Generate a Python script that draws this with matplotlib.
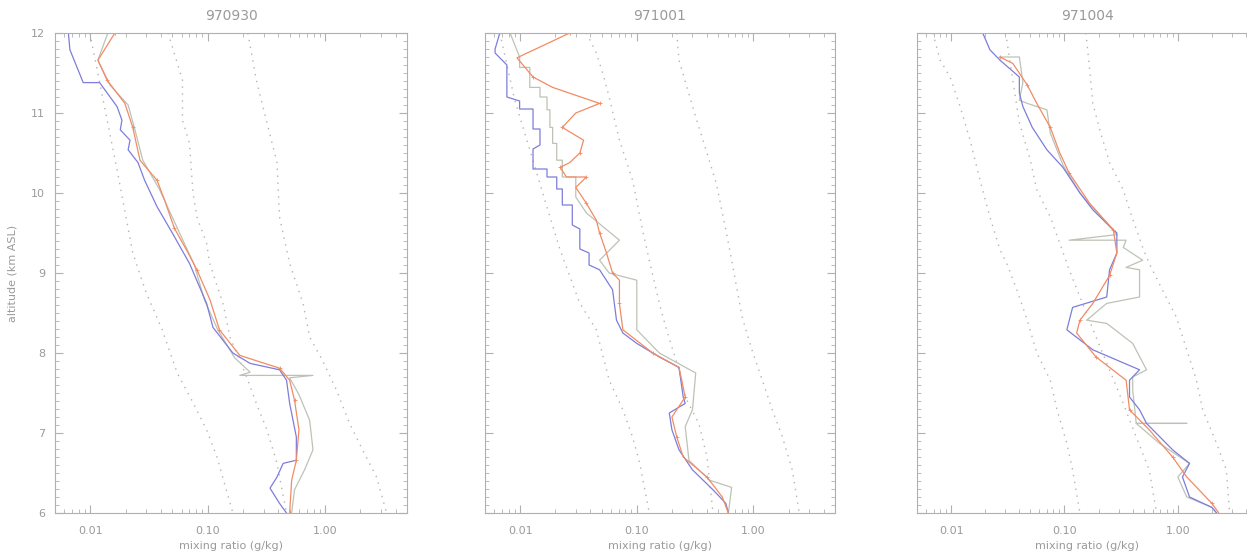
import matplotlib
matplotlib.use("Agg")
import matplotlib.pyplot as plt
from matplotlib.ticker import FixedLocator, MultipleLocator, LogLocator, NullFormatter

# ---------------- data (mixing ratio g/kg, altitude km) ----------------
titles = ["970930", "971001", "971004"]
xticks = [0.01, 0.1, 1.0]
xticklabels = ["0.01", "0.10", "1.00"]
yticks = [6, 7, 8, 9, 10, 11, 12]

# Panel 1 : 970930
p1_blue_mr = [0.0065, 0.0067, 0.0087, 0.012, 0.0169, 0.0186, 0.018, 0.0218, 0.021, 0.0255, 0.029, 0.037,
              0.050, 0.070, 0.098, 0.111, 0.164, 0.23, 0.41, 0.47, 0.50, 0.57, 0.57, 0.44, 0.39, 0.34, 0.41, 0.47]
p1_blue_alt = [12.0, 11.79, 11.38, 11.38, 11.08, 10.91, 10.79, 10.66, 10.54, 10.38, 10.16, 9.83,
               9.5, 9.12, 8.62, 8.32, 8.0, 7.87, 7.79, 7.66, 7.37, 6.95, 6.66, 6.62, 6.45, 6.31, 6.12, 6.0]
p1_red_mr = [0.0162, 0.0116, 0.0139, 0.0197, 0.023, 0.0265, 0.037, 0.043, 0.052, 0.070, 0.081, 0.105,
             0.126, 0.188, 0.41, 0.50, 0.55, 0.60, 0.57, 0.52, 0.50]
p1_red_alt = [12.0, 11.66, 11.41, 11.12, 10.82, 10.41, 10.16, 9.91, 9.56, 9.22, 9.04, 8.66,
              8.29, 7.97, 7.81, 7.66, 7.41, 7.04, 6.66, 6.41, 6.0]
p1_grey_mr = [0.0141, 0.0116, 0.0147, 0.021, 0.024, 0.028, 0.039, 0.056, 0.077, 0.094, 0.122, 0.17,
              0.23, 0.188, 0.79, 0.50, 0.60, 0.74, 0.79, 0.67, 0.55, 0.52]
p1_grey_alt = [12.0, 11.66, 11.35, 11.1, 10.79, 10.41, 10.04, 9.54, 9.1, 8.66, 8.29, 7.94,
               7.76, 7.72, 7.72, 7.69, 7.48, 7.16, 6.79, 6.54, 6.29, 6.0]
p1_d1_mr = [0.0099, 0.0169, 0.023, 0.030, 0.041, 0.055, 0.075, 0.098, 0.12, 0.164]
p1_d1_alt = [12.0, 10.29, 9.25, 8.75, 8.29, 7.75, 7.38, 7.04, 6.7, 6.0]
p1_d2_mr = [0.046, 0.061, 0.061, 0.070, 0.075, 0.081, 0.098, 0.104, 0.135, 0.155, 0.215, 0.26, 0.32, 0.39, 0.47]
p1_d2_alt = [12.0, 11.41, 10.91, 10.62, 10.0, 9.7, 9.37, 9.12, 8.62, 8.2, 7.7, 7.37, 7.04, 6.62, 6.0]
p1_d3_mr = [0.22, 0.26, 0.32, 0.39, 0.41, 0.50, 0.65, 0.74, 0.95, 1.25, 1.62, 2.09, 2.75, 3.35]
p1_d3_alt = [12.0, 11.41, 10.88, 10.38, 9.7, 9.12, 8.62, 8.2, 7.91, 7.54, 7.12, 6.79, 6.45, 6.0]

# Panel 2 : 971001
p2_blue_mr = [0.0067, 0.0061, 0.0061, 0.0077, 0.0077, 0.0099, 0.0099, 0.0129, 0.0129, 0.0148, 0.0148, 0.0129,
              0.0129, 0.017, 0.017, 0.0206, 0.0206, 0.023, 0.023, 0.028, 0.028, 0.0325, 0.0325, 0.039, 0.039,
              0.048, 0.062, 0.067, 0.076, 0.10, 0.156, 0.23, 0.25, 0.26, 0.19, 0.20, 0.23, 0.30, 0.45, 0.58, 0.61]
p2_blue_alt = [12.0, 11.8, 11.75, 11.6, 11.2, 11.15, 11.05, 11.05, 10.8, 10.8, 10.6, 10.55,
               10.3, 10.3, 10.2, 10.2, 10.05, 10.05, 9.85, 9.85, 9.6, 9.55, 9.3, 9.25, 9.1,
               9.04, 8.79, 8.41, 8.25, 8.12, 7.95, 7.82, 7.45, 7.37, 7.25, 7.04, 6.79, 6.54, 6.29, 6.12, 6.0]
p2_red_mr = [0.0266, 0.0094, 0.0129, 0.019, 0.048, 0.030, 0.023, 0.035, 0.0325, 0.0266, 0.022, 0.025, 0.037,
             0.030, 0.037, 0.045, 0.048, 0.055, 0.062, 0.071, 0.071, 0.076, 0.137, 0.23, 0.26, 0.20, 0.22,
             0.25, 0.40, 0.54, 0.61]
p2_red_alt = [12.0, 11.69, 11.45, 11.32, 11.12, 11.0, 10.82, 10.66, 10.5, 10.38, 10.32, 10.2, 10.2,
              10.07, 9.87, 9.66, 9.5, 9.25, 9.0, 8.91, 8.62, 8.29, 8.0, 7.82, 7.45, 7.2, 6.95,
              6.7, 6.45, 6.2, 6.0]
p2_grey_mr = [0.0082, 0.0099, 0.0099, 0.0121, 0.0121, 0.0148, 0.0148, 0.017, 0.017, 0.018, 0.018, 0.019,
              0.019, 0.0206, 0.0206, 0.023, 0.023, 0.030, 0.030, 0.037, 0.071, 0.048, 0.058, 0.10, 0.10,
              0.156, 0.32, 0.30, 0.26, 0.28, 0.42, 0.65, 0.61]
p2_grey_alt = [12.0, 11.7, 11.57, 11.57, 11.32, 11.32, 11.2, 11.2, 11.04, 11.04, 10.82, 10.82,
               10.62, 10.62, 10.41, 10.41, 10.2, 10.2, 9.95, 9.75, 9.41, 9.16, 9.0, 8.91, 8.29,
               8.0, 7.75, 7.29, 7.08, 6.66, 6.41, 6.32, 6.0]
p2_d1_mr = [0.0067, 0.009, 0.0121, 0.0163, 0.022, 0.0325, 0.045, 0.058, 0.076, 0.092, 0.106, 0.128]
p2_d1_alt = [12.0, 11.16, 10.54, 9.91, 9.29, 8.62, 8.29, 7.66, 7.29, 6.95, 6.62, 6.0]
p2_d2_mr = [0.037, 0.045, 0.051, 0.058, 0.071, 0.092, 0.112, 0.128, 0.156, 0.18, 0.23, 0.26, 0.34, 0.40, 0.45]
p2_d2_alt = [12.0, 11.75, 11.5, 11.2, 10.66, 10.16, 9.54, 9.16, 8.62, 8.29, 7.79, 7.45, 7.12, 6.7, 6.0]
p2_d3_mr = [0.22, 0.23, 0.32, 0.40, 0.48, 0.58, 0.65, 0.80, 0.97, 1.19, 1.45, 1.77, 2.15, 2.47]
p2_d3_alt = [12.0, 11.66, 10.95, 10.5, 10.12, 9.54, 9.16, 8.45, 8.04, 7.66, 7.29, 6.95, 6.54, 6.0]

# Panel 3 : 971004
p3_blue_mr = [0.019, 0.022, 0.027, 0.040, 0.040, 0.043, 0.052, 0.070, 0.097, 0.137, 0.178, 0.236, 0.29,
              0.29, 0.25, 0.236, 0.118, 0.105, 0.178, 0.46, 0.375, 0.375, 0.46, 0.53, 0.90, 1.27, 1.1,
              1.27, 2.0, 2.2]
p3_blue_alt = [12.0, 11.79, 11.66, 11.45, 11.25, 11.08, 10.82, 10.54, 10.32, 10.0, 9.79, 9.62, 9.5,
               9.25, 9.04, 8.7, 8.57, 8.29, 8.04, 7.79, 7.66, 7.45, 7.29, 7.12, 6.79, 6.62, 6.45,
               6.2, 6.07, 6.0]
p3_red_mr = [0.027, 0.035, 0.047, 0.057, 0.075, 0.091, 0.11, 0.167, 0.27, 0.29, 0.25, 0.178, 0.137,
             0.128, 0.19, 0.35, 0.375, 0.56, 0.90, 1.2, 2.0, 2.3]
p3_red_alt = [11.7, 11.62, 11.35, 11.12, 10.82, 10.5, 10.25, 9.87, 9.54, 9.25, 8.97, 8.62, 8.41,
              8.25, 7.95, 7.66, 7.29, 7.04, 6.7, 6.45, 6.12, 6.0]
p3_grey_mr = [0.027, 0.040, 0.043, 0.040, 0.047, 0.070, 0.075, 0.097, 0.137, 0.205, 0.29, 0.11, 0.35,
              0.33, 0.49, 0.35, 0.46, 0.46, 0.236, 0.157, 0.236, 0.40, 0.53, 0.40, 0.40, 0.43, 1.2, 0.43,
              0.69, 1.27, 1.0, 1.2, 2.0, 2.2]
p3_grey_alt = [11.7, 11.7, 11.38, 11.16, 11.12, 11.04, 10.75, 10.35, 10.0, 9.72, 9.48, 9.41, 9.41,
               9.32, 9.16, 9.07, 9.04, 8.7, 8.62, 8.41, 8.37, 8.12, 7.79, 7.7, 7.54, 7.12, 7.12, 7.12,
               6.87, 6.62, 6.45, 6.2, 6.07, 6.0]
p3_d1_mr = [0.0069, 0.008, 0.0098, 0.012, 0.0147, 0.018, 0.022, 0.027, 0.031, 0.038, 0.047, 0.057,
            0.075, 0.086, 0.105, 0.118, 0.137]
p3_d1_alt = [12.0, 11.66, 11.45, 11.08, 10.66, 10.16, 9.7, 9.29, 9.12, 8.79, 8.41, 8.0,
             7.66, 7.29, 6.87, 6.54, 6.0]
p3_d2_mr = [0.030, 0.031, 0.035, 0.040, 0.050, 0.057, 0.075, 0.091, 0.11, 0.19, 0.25, 0.33, 0.43, 0.56, 0.65]
p3_d2_alt = [12.0, 11.91, 11.41, 10.88, 10.41, 10.04, 9.7, 9.37, 9.04, 8.2, 7.79, 7.37, 6.95, 6.54, 6.0]
p3_d3_mr = [0.155, 0.157, 0.167, 0.178, 0.205, 0.25, 0.33, 0.375, 0.49, 0.56, 0.73, 0.97, 1.2, 1.46,
            1.66, 2.2, 2.68, 2.87]
p3_d3_alt = [12.0, 11.91, 11.54, 11.12, 10.79, 10.38, 10.04, 9.79, 9.32, 9.12, 8.79, 8.45, 8.04, 7.66,
             7.29, 6.87, 6.54, 6.0]

panels = [
    dict(blue=(p1_blue_mr, p1_blue_alt), red=(p1_red_mr, p1_red_alt), grey=(p1_grey_mr, p1_grey_alt),
         dots=[(p1_d1_mr, p1_d1_alt), (p1_d2_mr, p1_d2_alt), (p1_d3_mr, p1_d3_alt)]),
    dict(blue=(p2_blue_mr, p2_blue_alt), red=(p2_red_mr, p2_red_alt), grey=(p2_grey_mr, p2_grey_alt),
         dots=[(p2_d1_mr, p2_d1_alt), (p2_d2_mr, p2_d2_alt), (p2_d3_mr, p2_d3_alt)]),
    dict(blue=(p3_blue_mr, p3_blue_alt), red=(p3_red_mr, p3_red_alt), grey=(p3_grey_mr, p3_grey_alt),
         dots=[(p3_d1_mr, p3_d1_alt), (p3_d2_mr, p3_d2_alt), (p3_d3_mr, p3_d3_alt)]),
]

# ---------------- figure ----------------
W, H = 1247, 555
fig = plt.figure(figsize=(W / 100, H / 100), dpi=100)
fig.patch.set_facecolor("white")

# pixel boxes (left, right) for each panel; top 33, bottom 513
boxes = [(55, 407), (485, 835), (917, 1257)]
top_px, bot_px = 33, 513

axis_col = "#b0b0b0"
text_col = "#9a9a9a"
blue_col = "#7d7ddb"
red_col = "#f28b64"
grey_col = "#bcc3b6"
dot_col = "#b3b3b3"

for i, (pan, (l, r)) in enumerate(zip(panels, boxes)):
    ax = fig.add_axes([l / W, (H - bot_px) / H, (r - l) / W, (bot_px - top_px) / H])
    ax.set_xscale("log")
    ax.set_xlim(0.005, 5.0)
    ax.set_ylim(6, 12)

    for dmr, dalt in pan["dots"]:
        ax.plot(dmr, dalt, linestyle=(0, (1, 4)), color=dot_col, lw=1.0)
    ax.plot(*pan["grey"], color=grey_col, lw=0.9)
    ax.plot(*pan["blue"], color=blue_col, lw=0.9)
    ax.plot(*pan["red"], color=red_col, lw=0.9, marker="+", ms=3.5, mew=0.6, markevery=2)

    for s in ax.spines.values():
        s.set_color(axis_col)
        s.set_linewidth(0.8)
    if i == 2:
        ax.spines["right"].set_visible(False)

    ax.xaxis.set_major_locator(FixedLocator(xticks))
    ax.set_xticklabels(xticklabels)
    ax.xaxis.set_minor_locator(LogLocator(base=10, subs=range(2, 10)))
    ax.xaxis.set_minor_formatter(NullFormatter())
    ax.yaxis.set_major_locator(FixedLocator(yticks))
    ax.yaxis.set_minor_locator(MultipleLocator(0.1))
    ax.tick_params(which="both", direction="in", top=True, right=True, colors=axis_col,
                   labelcolor=text_col, labelsize=8)
    ax.tick_params(which="major", length=6, width=0.8)
    ax.tick_params(axis="x", which="major", pad=9)
    ax.tick_params(axis="y", which="major", pad=7)
    ax.tick_params(which="minor", length=3, width=0.6)
    if i > 0:
        ax.set_yticklabels([])
    else:
        ax.set_ylabel("altitude (km ASL)", color=text_col, fontsize=8, labelpad=10)
    ax.set_xlabel("mixing ratio (g/kg)", color=text_col, fontsize=8, labelpad=4)
    ax.set_title(titles[i], color=text_col, fontsize=10, pad=9)

fig.savefig("out.png", dpi=100, facecolor="white")
